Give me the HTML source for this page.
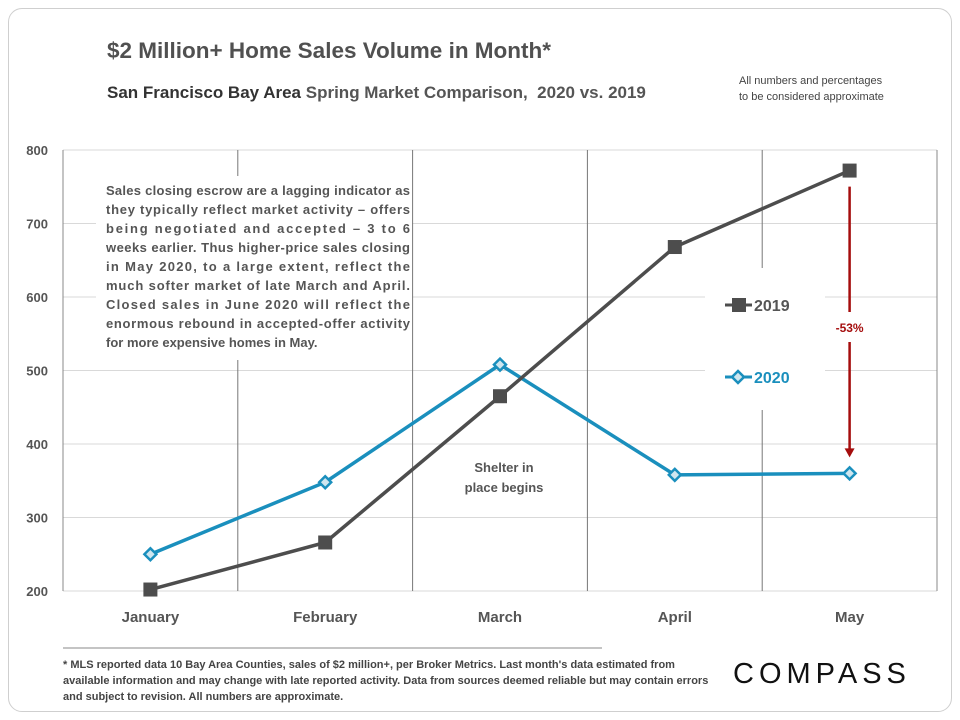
<!DOCTYPE html>
<html><head><meta charset="utf-8"><style>
body{margin:0;background:#fff;font-family:"Liberation Sans",sans-serif;}
#card{position:absolute;left:8px;top:8px;width:942px;height:702px;border:1px solid #cfcfcf;border-radius:14px;}
.t{position:absolute;color:#555;font-weight:bold;white-space:nowrap;}
</style></head><body>
<div id="card"></div>
<div class="t" style="left:107px;top:38px;font-size:22.5px;color:#505050">$2 Million+ Home Sales Volume in Month*</div>
<div class="t" style="left:107px;top:83px;font-size:17px;color:#333">San Francisco Bay Area <span style="color:#555">Spring Market Comparison,&nbsp; 2020 vs. 2019</span></div>
<div class="t" style="left:739px;top:73px;font-size:11px;font-weight:normal;color:#444;line-height:16px">All numbers and percentages<br>to be considered approximate</div>
<svg width="960" height="720" style="position:absolute;left:0;top:0">
<g id="grid"></g><g id="boxes"></g><g id="marks"></g><g id="labels"></g>
</svg>
<div class="t" style="left:63px;top:657px;font-size:11px;font-weight:bold;color:#444;line-height:16px;white-space:normal;width:655px">* MLS reported data 10 Bay Area Counties, sales of $2 million+, per Broker Metrics. Last month's data estimated from available information and may change with late reported activity. Data from sources deemed reliable but may contain errors and subject to revision. All numbers are approximate.</div>
<div class="t" style="left:733px;top:658px;font-size:29px;color:#111;letter-spacing:5px;font-weight:normal">COMPASS</div>
<script>
const categories=["January","February","March","April","May"];
const series2019=[202,266,465,668,772];
const series2020=[250,348,508,358,360];
const yTicks=[200,300,400,500,600,700,800];
const ns="http://www.w3.org/2000/svg";
const L=63,R=937,T=150,B=591,bw=(R-L)/categories.length;
const x=i=>L+bw*(i+0.5), y=v=>B-(v-200)/600*(B-T);
function mk(t,a,p){const e=document.createElementNS(ns,t);for(const k in a)e.setAttribute(k,a[k]);(p||document.getElementById('marks')).appendChild(e);return e;}
const G=document.getElementById('grid'),Bx=document.getElementById('boxes'),Lb=document.getElementById('labels');
yTicks.forEach(v=>{const l=mk('line',{x1:L,x2:R,y1:y(v),y2:y(v),stroke:'#d9d9d9','stroke-width':1},G);

const t=mk('text',{x:48,y:y(v)+5,'text-anchor':'end','font-size':13,'font-weight':'bold',fill:'#555'},Lb);t.textContent=v;
});
for(let i=0;i<=categories.length;i++){const l=mk('line',{x1:L+bw*i,x2:L+bw*i,y1:T,y2:B,stroke:i==0||i==categories.length?'#888':'#777','stroke-width':1},G);
}
categories.forEach((c,i)=>{const t=mk('text',{x:x(i),y:622,'text-anchor':'middle','font-size':15,'font-weight':'bold',fill:'#555'},Lb);t.textContent=c;
});
mk('rect',{x:96,y:176,width:316,height:184,fill:'#fff'},Bx);
mk('rect',{x:705,y:268,width:120,height:142,fill:'#fff'},Bx);
const note=["Sales closing escrow are a lagging indicator as","they typically reflect market activity – offers","being negotiated and accepted – 3 to 6","weeks earlier.  Thus higher-price sales closing","in May 2020, to a large extent, reflect the","much softer market of late March and April.","Closed sales in June 2020 will reflect the","enormous rebound in accepted-offer activity","for more expensive homes in May."];
note.forEach((s,i)=>{const a={x:106,y:195+i*19,'font-size':13,'font-weight':'bold',fill:'#555'};if(i<8){a.textLength=304;a.lengthAdjust='spacing';}
const t=mk('text',a,Lb);t.textContent=s;
});
[["Shelter in",472],["place begins",492]].forEach(a=>{const t=mk('text',{x:504,y:a[1],'text-anchor':'middle','font-size':13,'font-weight':'bold',fill:'#555'},Lb);t.textContent=a[0];
});
function series(vals,col,name,sq){
const p=mk('polyline',{points:vals.map((v,i)=>x(i)+','+y(v)).join(' '),fill:'none',stroke:col,'stroke-width':3.5});

vals.forEach((v,i)=>{let m;if(sq)m=mk('rect',{x:x(i)-7,y:y(v)-7,width:14,height:14,fill:col});
else m=mk('path',{d:`M${x(i)} ${y(v)-6}L${x(i)+6} ${y(v)}L${x(i)} ${y(v)+6}L${x(i)-6} ${y(v)}Z`,fill:'#cfe6ef',stroke:col,'stroke-width':2.5});
});}
series(series2020,'#1a8fbd','series-2020',false);
series(series2019,'#4d4d4d','series-2019',true);
const lg1=mk('line',{x1:725,x2:752,y1:305,y2:305,stroke:'#4d4d4d','stroke-width':3});
mk('rect',{x:732,y:298,width:14,height:14,fill:'#4d4d4d'});
let t=mk('text',{x:754,y:311,'font-size':16,'font-weight':'bold',fill:'#555'},Lb);t.textContent='2019';
const lg2=mk('line',{x1:725,x2:752,y1:377,y2:377,stroke:'#1a8fbd','stroke-width':3});
mk('path',{d:'M738 371L744 377L738 383L732 377Z',fill:'#cfe6ef',stroke:'#1a8fbd','stroke-width':2.5});
t=mk('text',{x:754,y:383,'font-size':16,'font-weight':'bold',fill:'#1a8fbd'},Lb);t.textContent='2020';
const ax=x(4);
const a1=mk('line',{x1:ax,x2:ax,y1:y(series2019[4])+16,y2:312,stroke:'#a50d0d','stroke-width':2.5});
mk('line',{x1:ax,x2:ax,y1:342,y2:y(series2020[4])-24,stroke:'#a50d0d','stroke-width':2.5});
mk('path',{d:`M${ax-5} ${y(series2020[4])-25}L${ax+5} ${y(series2020[4])-25}L${ax} ${y(series2020[4])-16}Z`,fill:'#a50d0d'});
t=mk('text',{x:ax,y:332,'text-anchor':'middle','font-size':12,'font-weight':'bold',fill:'#a50d0d'},Lb);t.textContent='-53%';
const fl=mk('line',{x1:63,x2:602,y1:648,y2:648,stroke:'#888','stroke-width':1});
</script>
</body></html>
